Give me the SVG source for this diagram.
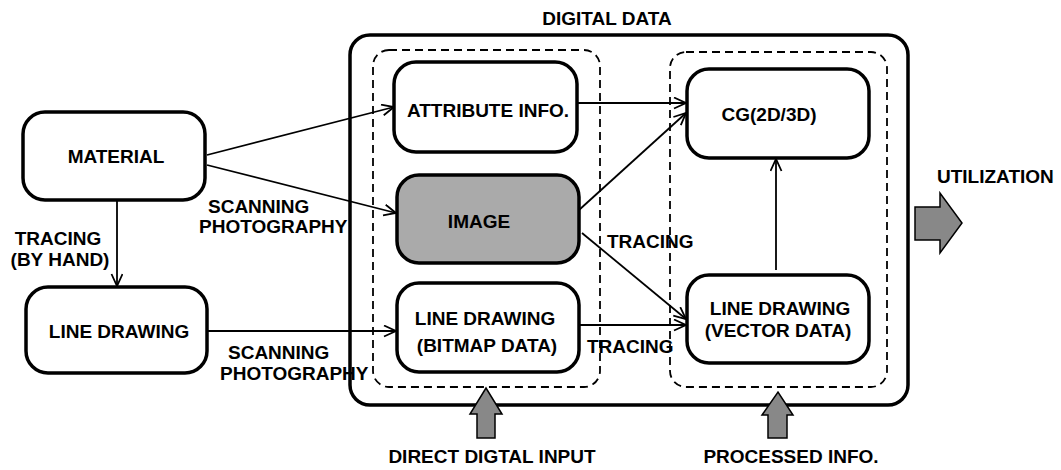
<svg xmlns="http://www.w3.org/2000/svg" width="1061" height="470" viewBox="0 0 1061 470">
<style>
.node{fill:#fff;stroke:#000;stroke-width:3.5}
.gray{fill:#aaaaaa}
.dash{fill:none;stroke:#000;stroke-width:1.8;stroke-dasharray:8,5}
.outer{fill:none;stroke:#000;stroke-width:3.5}
.con{fill:none;stroke:#000;stroke-width:1.8;marker-end:url(#arr)}
.big{fill:#888;stroke:#000;stroke-width:1.5;stroke-linejoin:miter}
text{font-family:"Liberation Sans",Arial,sans-serif;font-weight:bold;font-size:19px;fill:#000}
.m{text-anchor:middle}
</style>
<defs>
<marker id="arr" markerUnits="userSpaceOnUse" markerWidth="16" markerHeight="14" refX="13" refY="6" orient="auto">
<path d="M1,0.5 L13,6 L1,11.5" fill="none" stroke="#000" stroke-width="1.8"/>
</marker>
</defs>
<g id="containers">
<rect class="outer" x="350" y="35" width="558" height="370" rx="20"/>
<rect class="dash" x="373" y="50" width="227" height="337" rx="16"/>
<rect class="dash" x="670" y="52" width="217" height="335" rx="16"/>
<text class="m" x="607" y="25">DIGITAL DATA</text>
</g>
<g id="connectors">
<line class="con" x1="207" y1="155" x2="394" y2="107"/>
<line class="con" x1="207" y1="165" x2="396" y2="213"/>
<line class="con" x1="117" y1="200" x2="117" y2="286"/>
<line class="con" x1="207" y1="331" x2="396" y2="331"/>
<line class="con" x1="577" y1="103" x2="686" y2="103"/>
<line class="con" x1="579" y1="210" x2="686" y2="113"/>
<line class="con" x1="582" y1="233" x2="686" y2="319"/>
<line class="con" x1="579" y1="325" x2="686" y2="325"/>
<line class="con" x1="776" y1="270" x2="776" y2="159"/>
</g>
<g id="labels">
<text class="m" x="58" y="245">TRACING</text>
<text class="m" x="60" y="266">(BY HAND)</text>
<text x="208" y="213">SCANNING</text>
<text x="199" y="233">PHOTOGRAPHY</text>
<text x="228" y="359">SCANNING</text>
<text x="220" y="380">PHOTOGRAPHY</text>
<text x="607" y="248">TRACING</text>
<text x="587" y="353">TRACING</text>
</g>
<g id="material">
<rect class="node" x="23" y="112" width="182" height="88" rx="22"/>
<text class="m" x="116" y="163">MATERIAL</text>
</g>
<g id="line-drawing">
<rect class="node" x="26" y="287" width="181" height="86" rx="22"/>
<text class="m" x="119" y="338">LINE DRAWING</text>
</g>
<g id="attribute-info">
<rect class="node" x="394" y="62" width="183" height="90" rx="22"/>
<text class="m" x="488" y="117">ATTRIBUTE INFO.</text>
</g>
<g id="image">
<rect class="node gray" x="397" y="175" width="182" height="88" rx="22"/>
<text class="m" x="479" y="228">IMAGE</text>
</g>
<g id="line-drawing-bitmap">
<rect class="node" x="397" y="283" width="182" height="89" rx="22"/>
<text class="m" x="485" y="325">LINE DRAWING</text>
<text class="m" x="487" y="352">(BITMAP DATA)</text>
</g>
<g id="cg">
<rect class="node" x="687" y="69" width="182" height="89" rx="22"/>
<text class="m" x="769" y="121">CG(2D/3D)</text>
</g>
<g id="line-drawing-vector">
<rect class="node" x="687" y="275" width="182" height="88" rx="22"/>
<text class="m" x="780" y="315">LINE DRAWING</text>
<text class="m" x="778" y="337">(VECTOR DATA)</text>
</g>
<g id="utilization">
<path class="big" d="M915,207 L940,207 L940,193 L962,223 L940,253 L940,240 L915,240 Z"/>
<text x="937" y="183">UTILIZATION</text>
</g>
<g id="direct-digital-input">
<path class="big" d="M477,438 L477,414 L470,414 L486,388 L502,414 L495,414 L495,438 Z"/>
<text class="m" x="492" y="463">DIRECT DIGTAL INPUT</text>
</g>
<g id="processed-info">
<path class="big" d="M768,438 L768,415 L762,415 L778,392 L793,415 L787,415 L787,438 Z"/>
<text class="m" x="791" y="463">PROCESSED INFO.</text>
</g>
</svg>
